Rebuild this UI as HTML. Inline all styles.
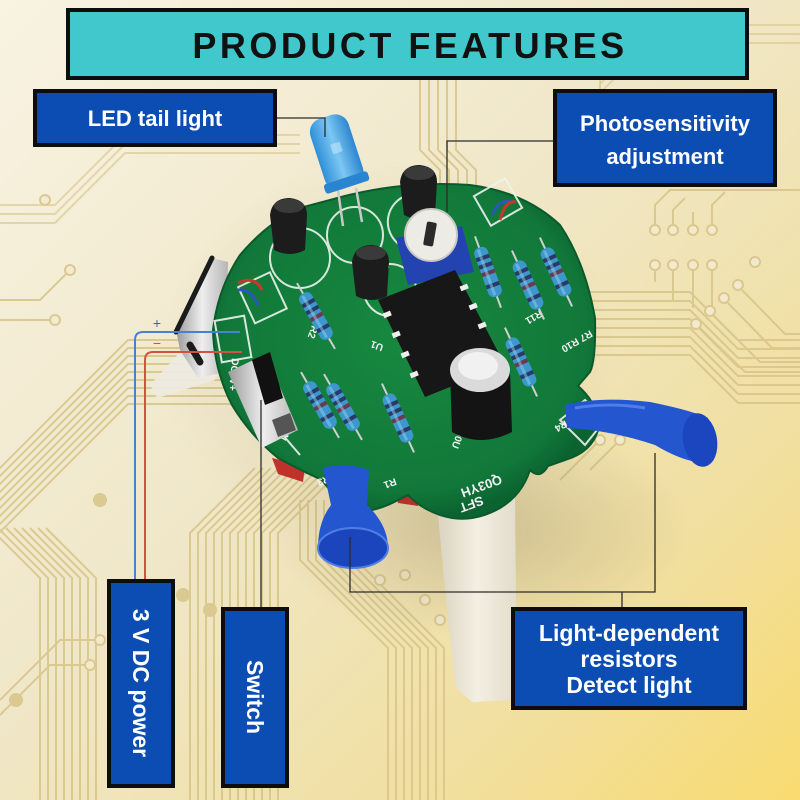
<!DOCTYPE html>
<html><head><meta charset="utf-8"><style>
html,body{margin:0;padding:0;width:800px;height:800px;overflow:hidden;background:#f3ead0}
svg{display:block}
.lbl{font-family:"Liberation Sans",Arial,sans-serif;font-weight:bold;fill:#fff}
.silk{font-family:"Liberation Sans",Arial,sans-serif;font-weight:bold;fill:#f2f2f2}
</style></head><body>
<svg width="800" height="800" viewBox="0 0 800 800" xmlns="http://www.w3.org/2000/svg">
<defs>
<linearGradient id="bg" x1="0" y1="0" x2="1" y2="1">
 <stop offset="0" stop-color="#f8f3e2"/>
 <stop offset="0.45" stop-color="#f0e7c8"/>
 <stop offset="0.78" stop-color="#f1df9e"/>
 <stop offset="1" stop-color="#f9db70"/>
</linearGradient>
<radialGradient id="sh" cx="0.5" cy="0.5" r="0.5">
 <stop offset="0" stop-color="#7d6e4c" stop-opacity="0.30"/>
 <stop offset="1" stop-color="#7d6e4c" stop-opacity="0"/>
</radialGradient>
<radialGradient id="pcb" cx="0.5" cy="0.45" r="0.55">
 <stop offset="0" stop-color="#17893f"/>
 <stop offset="0.85" stop-color="#11783a"/>
 <stop offset="1" stop-color="#0b6330"/>
</radialGradient>
<linearGradient id="leg" x1="0" y1="0" x2="1" y2="0">
 <stop offset="0" stop-color="#d9d3bf"/>
 <stop offset="0.5" stop-color="#f3efe2"/>
 <stop offset="1" stop-color="#e2dccb"/>
</linearGradient>
<linearGradient id="led" x1="0" y1="0" x2="1" y2="0">
 <stop offset="0" stop-color="#2f8fd8"/>
 <stop offset="0.5" stop-color="#7cc6f2"/>
 <stop offset="1" stop-color="#2b86d0"/>
</linearGradient>
<linearGradient id="silver" x1="0" y1="0" x2="1" y2="0">
 <stop offset="0" stop-color="#9a9a9a"/>
 <stop offset="0.5" stop-color="#eeeeee"/>
 <stop offset="1" stop-color="#b5b5b5"/>
</linearGradient>
<g id="res">
 <line x1="0" y1="-38" x2="0" y2="38" stroke="#cfcfcf" stroke-width="2"/>
 <rect x="-7" y="-26" width="14" height="52" rx="6" fill="#3d97cc"/>
 <rect x="-7" y="-17" width="14" height="4" fill="#2a3a66"/>
 <rect x="-7" y="-9" width="14" height="4" fill="#2a3a66"/>
 <rect x="-7" y="-1" width="14" height="4" fill="#6b3a50"/>
 <rect x="-7" y="12" width="14" height="4" fill="#2a3a66"/>
 <rect x="-3" y="-24" width="3" height="48" fill="#8fd0f0" opacity="0.5"/>
</g>
<path id="tA" d="M-10,478 L128,340 L250,340"/>
<path id="tB" d="M-10,528 L40,578 L40,810"/>
<path id="tC" d="M255,468 L190,533 L190,810"/>
<path id="tD" d="M300,500 L300,560 L388,648 L388,810"/>
<path id="tE" d="M585,292 L690,292 L738,340 L810,340"/>
<path id="tF" d="M420,80 L420,150 L440,170 L440,195"/>
<path id="tG" d="M-10,205 L55,205 L125,135 L300,135"/>
<path id="tH" d="M600,95 L600,75 L650,25 L810,25"/>
</defs>

<!-- background -->
<rect width="800" height="800" fill="url(#bg)"/>

<!-- pcb traces background -->
<g fill="none" stroke="#d7c68b" stroke-width="2" opacity="0.9">
 <use href="#tA"/><use href="#tA" transform="translate(0,8)"/><use href="#tA" transform="translate(0,16)"/><use href="#tA" transform="translate(0,24)"/><use href="#tA" transform="translate(0,32)"/><use href="#tA" transform="translate(0,40)"/><use href="#tA" transform="translate(0,48)"/><use href="#tA" transform="translate(0,56)"/><use href="#tA" transform="translate(0,64)"/>
 <use href="#tB"/><use href="#tB" transform="translate(8,0)"/><use href="#tB" transform="translate(16,0)"/><use href="#tB" transform="translate(24,0)"/><use href="#tB" transform="translate(32,0)"/><use href="#tB" transform="translate(40,0)"/><use href="#tB" transform="translate(48,0)"/><use href="#tB" transform="translate(56,0)"/>
 <use href="#tC"/><use href="#tC" transform="translate(8,0)"/><use href="#tC" transform="translate(16,0)"/><use href="#tC" transform="translate(24,0)"/><use href="#tC" transform="translate(32,0)"/><use href="#tC" transform="translate(40,0)"/><use href="#tC" transform="translate(48,0)"/><use href="#tC" transform="translate(56,0)"/><use href="#tC" transform="translate(64,0)"/><use href="#tC" transform="translate(72,0)"/><use href="#tC" transform="translate(80,0)"/><use href="#tC" transform="translate(88,0)"/>
 <use href="#tD"/><use href="#tD" transform="translate(8,0)"/><use href="#tD" transform="translate(16,0)"/><use href="#tD" transform="translate(24,0)"/><use href="#tD" transform="translate(32,0)"/><use href="#tD" transform="translate(40,0)"/><use href="#tD" transform="translate(48,0)"/><use href="#tD" transform="translate(56,0)"/>
 <use href="#tE"/><use href="#tE" transform="translate(0,9)"/><use href="#tE" transform="translate(0,18)"/><use href="#tE" transform="translate(0,27)"/><use href="#tE" transform="translate(0,36)"/><use href="#tE" transform="translate(0,45)"/><use href="#tE" transform="translate(0,54)"/><use href="#tE" transform="translate(0,63)"/>
 <use href="#tF"/><use href="#tF" transform="translate(9,0)"/><use href="#tF" transform="translate(18,0)"/><use href="#tF" transform="translate(27,0)"/><use href="#tF" transform="translate(36,0)"/>
 <use href="#tG" opacity="0.7"/><use href="#tG" transform="translate(0,9)" opacity="0.7"/><use href="#tG" transform="translate(0,18)" opacity="0.7"/>
 <use href="#tH" opacity="0.7"/><use href="#tH" transform="translate(0,9)" opacity="0.7"/><use href="#tH" transform="translate(0,18)" opacity="0.7"/>
 <path d="M655,225 L655,205 L670,190 L810,190 M673,225 L673,210 L685,198 M693,225 L693,212 M712,225 L712,205 L725,192"/>
 <path d="M655,270 L655,282 M673,270 L673,300 M693,270 L693,308 M712,270 L712,316"/>
 <path d="M700,328 L745,372 L810,372 M714,316 L760,362 L810,362 M728,303 L772,348 L810,348 M742,290 L785,334 L810,334"/>
 <path d="M0,700 L60,640 L100,640 M0,715 L50,665 L90,665 M0,300 L40,300 L70,270 M0,320 L55,320"/>
 <path d="M590,470 L620,440 M560,480 L600,440"/>
 <g fill="#f3ead0">
  <circle cx="655" cy="230" r="5"/><circle cx="673" cy="230" r="5"/><circle cx="693" cy="230" r="5"/><circle cx="712" cy="230" r="5"/>
  <circle cx="655" cy="265" r="5"/><circle cx="673" cy="265" r="5"/><circle cx="693" cy="265" r="5"/><circle cx="712" cy="265" r="5"/>
  <circle cx="696" cy="324" r="5"/><circle cx="710" cy="311" r="5"/><circle cx="724" cy="298" r="5"/><circle cx="738" cy="285" r="5"/><circle cx="755" cy="262" r="5"/>
  <circle cx="100" cy="640" r="5"/><circle cx="90" cy="665" r="5"/><circle cx="70" cy="270" r="5"/><circle cx="55" cy="320" r="5"/>
  <circle cx="45" cy="200" r="5"/><circle cx="380" cy="580" r="5"/><circle cx="405" cy="575" r="5"/><circle cx="425" cy="600" r="5"/><circle cx="440" cy="620" r="5"/>
  <circle cx="600" cy="440" r="5"/><circle cx="620" cy="440" r="5"/>
 </g>
 <circle cx="183" cy="595" r="6" fill="#d7c68b"/><circle cx="210" cy="610" r="6" fill="#d7c68b"/><circle cx="100" cy="500" r="6" fill="#d7c68b"/><circle cx="16" cy="700" r="6" fill="#d7c68b"/>
</g>

<!-- shadow under robot -->
<ellipse cx="480" cy="530" rx="210" ry="110" fill="url(#sh)"/>
<ellipse cx="390" cy="360" rx="230" ry="200" fill="url(#sh)" opacity="0.6"/>

<!-- white legs -->
<path d="M437,505 L515,495 L517,700 L472,702 L456,688 L446,600 Z" fill="url(#leg)"/>
<path d="M157,398 L150,385 L200,330 L225,335 L215,380 Z" fill="#eeeae0" opacity="0.95"/>

<!-- battery holder (silver) -->
<path d="M212,258 L228,262 L226,372 L198,378 L180,350 L176,330 Z" fill="url(#silver)"/>
<path d="M176,332 L212,258" stroke="#1b1b1b" stroke-width="5" stroke-linecap="round"/>
<path d="M190,345 L200,362" stroke="#1b1b1b" stroke-width="7" stroke-linecap="round"/>

<!-- red underside strips -->
<path d="M272,458 L305,466 L303,482 L278,474 Z" fill="#c0312c"/>
<path d="M395,490 L420,494 L418,506 L398,503 Z" fill="#b8302c"/>

<!-- board -->
<path d="M330,200 Q400,180 470,185 Q525,192 560,225 Q585,262 595,318 Q596,360 590,372 L578,386 Q600,405 598,430 Q592,452 565,460 L548,466 Q540,480 530,470 Q522,495 500,508 Q470,525 440,515 Q420,508 408,495 L398,500 Q380,510 360,512 Q340,505 322,480 Q300,470 278,458 Q250,435 232,405 Q214,370 213,330 Q218,288 240,255 Q268,222 300,208 Z" fill="url(#pcb)" stroke="#0a5a2b" stroke-width="2"/>

<!-- silkscreen outlines -->
<g fill="none" stroke="#eef3ee" stroke-width="2" opacity="0.9">
 <circle cx="300" cy="258" r="30"/>
 <circle cx="355" cy="235" r="28"/>
 <circle cx="390" cy="290" r="26"/>
 <path d="M408,195 A28,28 0 0 0 400,245"/>
 <rect x="245" y="278" width="35" height="40" transform="rotate(-25 262 298)"/>
 <rect x="218" y="318" width="30" height="42" transform="rotate(-10 233 339)"/>
 <rect x="480" y="185" width="36" height="34" transform="rotate(-30 498 202)"/>
 <path d="M240,385 L300,455" />
 <path d="M560,420 L585,400 L605,420 L585,445 Z"/>
</g>

<!-- silk text -->
<text class="silk" font-size="13" transform="translate(470,500) rotate(160)" text-anchor="middle">SFT</text>
<text class="silk" font-size="13" transform="translate(480,482) rotate(160)" text-anchor="middle">Q03YH</text>
<text class="silk" font-size="10" transform="translate(343,470) rotate(160)">R5 R3</text>
<text class="silk" font-size="10" transform="translate(395,478) rotate(160)">R1</text>
<text class="silk" font-size="10" transform="translate(287,425) rotate(120)">ON</text>
<text class="silk" font-size="10" transform="translate(465,410) rotate(110)">C1 100U</text>
<text class="silk" font-size="10" transform="translate(590,330) rotate(150)">R7 R10</text>
<text class="silk" font-size="10" transform="translate(540,310) rotate(150)">R11</text>
<text class="silk" font-size="10" transform="translate(565,420) rotate(150)">R4</text>
<text class="silk" font-size="10" transform="translate(388,262) rotate(160)">Q3</text>
<text class="silk" font-size="10" transform="translate(312,325) rotate(110)">R2</text>
<text class="silk" font-size="10" transform="translate(384,345) rotate(200)">U1</text>
<text class="silk" font-size="10" transform="translate(232,358) rotate(95)">DC3V+</text>

<!-- resistors -->
<use href="#res" transform="translate(488,272) rotate(-20)"/>
<use href="#res" transform="translate(528,285) rotate(-25)"/>
<use href="#res" transform="translate(556,272) rotate(-25)"/>
<use href="#res" transform="translate(521,362) rotate(-25)"/>
<use href="#res" transform="translate(316,316) rotate(-30)"/>
<use href="#res" transform="translate(320,405) rotate(-30)"/>
<use href="#res" transform="translate(343,407) rotate(-30)"/>
<use href="#res" transform="translate(398,418) rotate(-25)"/>

<!-- connector wires on board -->
<path d="M238,283 Q255,275 262,290" fill="none" stroke="#c8372e" stroke-width="3"/>
<path d="M238,290 Q250,288 258,305" fill="none" stroke="#2c56b8" stroke-width="3"/>
<path d="M492,215 Q500,198 510,202" fill="none" stroke="#2c56b8" stroke-width="3"/>
<path d="M500,220 Q505,200 516,202" fill="none" stroke="#c8372e" stroke-width="3"/>

<!-- transistors -->
<g fill="#1c1c1c">
 <path d="M270,215 Q272,198 290,198 Q307,200 307,215 L305,250 Q290,258 274,250 Z"/>
 <path d="M400,182 Q402,165 420,165 Q437,167 437,182 L435,215 Q420,223 404,215 Z"/>
 <path d="M352,262 Q354,245 372,245 Q389,247 389,262 L387,296 Q372,304 356,296 Z"/>
</g>
<g fill="#3a3a3a"><ellipse cx="289" cy="206" rx="15" ry="7"/><ellipse cx="419" cy="173" rx="15" ry="7"/><ellipse cx="371" cy="253" rx="15" ry="7"/></g>

<!-- LED -->
<g stroke="#c9c9c9" stroke-width="2.5"><line x1="338" y1="190" x2="343" y2="226"/><line x1="356" y1="188" x2="362" y2="222"/></g>
<g transform="translate(337,153) rotate(-18)">
 <rect x="-20" y="-38" width="40" height="74" rx="14" fill="url(#led)"/>
 <rect x="-23" y="26" width="46" height="10" rx="3" fill="#2b84d0"/>
 <rect x="-4" y="-10" width="10" height="10" fill="#bfe5fa" opacity="0.6"/>
</g>

<!-- potentiometer -->
<path d="M396,238 L462,226 L474,272 L408,285 Z" fill="#2243b0"/>
<circle cx="431" cy="235" r="26" fill="#ecebe6" stroke="#c9c9c4" stroke-width="2"/>
<rect x="425" y="222" width="10" height="24" rx="2" fill="#2a2a2a" transform="rotate(10 430 234)"/>

<!-- IC -->
<path d="M378,300 L455,270 L505,365 L425,397 Z" fill="#171717"/>
<g fill="#eeeeee">
 <rect x="383" y="312" width="8" height="5" transform="rotate(-22 387 314)"/>
 <rect x="392" y="332" width="8" height="5" transform="rotate(-22 396 334)"/>
 <rect x="401" y="352" width="8" height="5" transform="rotate(-22 405 354)"/>
 <rect x="410" y="372" width="8" height="5" transform="rotate(-22 414 374)"/>
 <rect x="460" y="285" width="8" height="5" transform="rotate(-22 464 287)"/>
 <rect x="469" y="304" width="8" height="5" transform="rotate(-22 473 306)"/>
 <rect x="478" y="323" width="8" height="5" transform="rotate(-22 482 325)"/>
</g>

<!-- capacitor -->
<path d="M450,370 L510,370 L512,432 Q480,448 452,432 Z" fill="#141414"/>
<ellipse cx="480" cy="370" rx="30" ry="22" fill="#dadada"/>
<ellipse cx="478" cy="366" rx="20" ry="14" fill="#f1f1f1"/>

<!-- switch -->
<path d="M228,372 L266,354 L298,430 L262,448 Z" fill="url(#silver)"/>
<path d="M252,360 L270,352 L283,398 L265,405 Z" fill="#111"/>
<path d="M272,420 L290,413 L296,430 L278,437 Z" fill="#555"/>

<!-- LDR right -->
<path d="M565,405 Q600,396 650,402 Q690,410 708,418 L712,462 Q690,466 655,445 Q610,430 567,428 Z" fill="#2356cf"/>
<ellipse cx="700" cy="440" rx="17" ry="27" fill="#1b46bf" transform="rotate(-10 700 440)"/>
<path d="M575,408 Q610,402 645,408" stroke="#4f7fe6" stroke-width="3" fill="none"/>

<!-- LDR left -->
<path d="M323,468 Q345,462 369,470 L367,505 Q388,525 388,548 L318,548 Q318,522 331,505 Z" fill="#2356cf"/>
<ellipse cx="353" cy="548" rx="35" ry="20" fill="#1a45bd" stroke="#4f7fe6" stroke-width="2"/>

<!-- connector lines -->
<g fill="none" stroke="#2b2b2b" stroke-width="1.3">
 <path d="M277,118 L325,118 L325,137"/>
 <path d="M553,141 L447,141 L447,212"/>
 <path d="M261,607 L261,400"/>
 <path d="M350,537 L350,592 L655,592 L655,453"/>
 <path d="M622,592 L622,607"/>
</g>

<!-- power wires -->
<path d="M240,332 L143,332 Q135,332 135,340 L135,580" fill="none" stroke="#4a7fd2" stroke-width="2"/>
<path d="M242,352 L153,352 Q145,352 145,360 L145,580" fill="none" stroke="#d0533f" stroke-width="2"/>
<text x="157" y="328" font-family="Liberation Sans,sans-serif" font-size="14" fill="#3a64b0" text-anchor="middle">+</text>
<text x="157" y="348" font-family="Liberation Sans,sans-serif" font-size="14" fill="#c0503e" text-anchor="middle">−</text>

<!-- title -->
<rect x="68" y="10" width="679" height="68" fill="#40c8cc" stroke="#0d0d0d" stroke-width="4"/>
<text x="410" y="58" font-family="Liberation Sans,Arial,sans-serif" font-weight="bold" font-size="36" letter-spacing="3.5" fill="#111" text-anchor="middle">PRODUCT FEATURES</text>

<!-- labels -->
<g fill="#0b4db2" stroke="#0d0d0d" stroke-width="4">
 <rect x="35" y="91" width="240" height="54"/>
 <rect x="555" y="91" width="220" height="94"/>
 <rect x="109" y="581" width="64" height="205"/>
 <rect x="223" y="609" width="64" height="177"/>
 <rect x="513" y="609" width="232" height="99"/>
</g>
<text class="lbl" x="155" y="126" font-size="22" text-anchor="middle">LED tail light</text>
<text class="lbl" x="665" y="131" font-size="22" text-anchor="middle">Photosensitivity</text>
<text class="lbl" x="665" y="164" font-size="22" text-anchor="middle">adjustment</text>
<text class="lbl" x="629" y="641" font-size="23" text-anchor="middle">Light-dependent</text>
<text class="lbl" x="629" y="667" font-size="23" text-anchor="middle">resistors</text>
<text class="lbl" x="629" y="693" font-size="23" text-anchor="middle">Detect light</text>
<text class="lbl" font-size="23" text-anchor="middle" transform="translate(133,683) rotate(90)">3 V DC power</text>
<text class="lbl" font-size="23" text-anchor="middle" transform="translate(247,697) rotate(90)">Switch</text>
</svg>
</body></html>
